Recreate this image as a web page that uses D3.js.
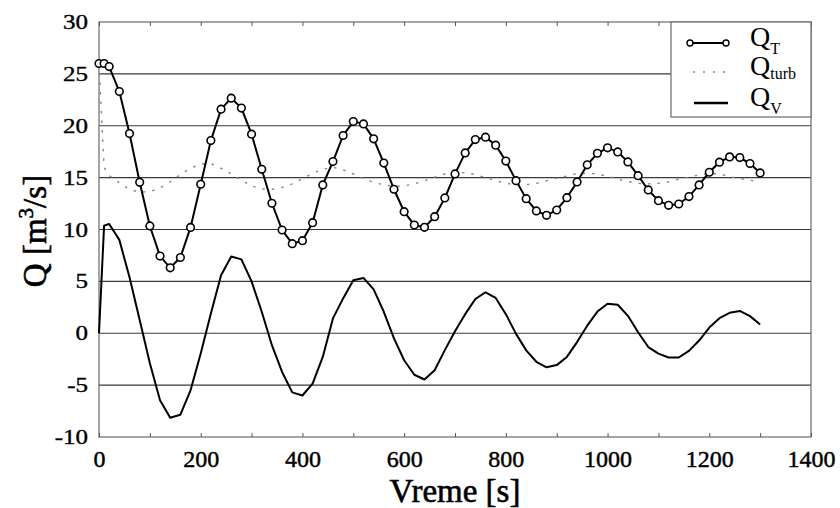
<!DOCTYPE html>
<html>
<head>
<meta charset="utf-8">
<script src="https://cdn.jsdelivr.net/npm/d3@7"></script>
<style>
  html, body { margin: 0; padding: 0; background: #fff; }
  svg { display: block; }
  svg text { font-family: "Liberation Serif", "DejaVu Serif", serif; }
</style>
</head>
<body>
<svg id="chart" width="840" height="508"></svg>
<script>
// Time samples [s]
const time = [0, 10, 20, 40, 60, 80, 100, 120, 140, 160, 180, 200, 220, 240, 260, 280, 300,
  320, 340, 360, 380, 400, 420, 440, 460, 480, 500, 520, 540, 560, 580, 600, 620, 640, 660,
  680, 700, 720, 740, 760, 780, 800, 820, 840, 860, 880, 900, 920, 940, 960, 980, 1000, 1020,
  1040, 1060, 1080, 1100, 1120, 1140, 1160, 1180, 1200, 1220, 1240, 1260, 1280, 1300];

// Total discharge Q_T [m3/s]
const qT = [26.0, 26.0, 25.7, 23.3, 19.25, 14.55, 10.34, 7.44, 6.31, 7.3, 10.2, 14.36, 18.57,
  21.6, 22.66, 21.7, 19.19, 15.8, 12.53, 9.95, 8.63, 8.92, 10.66, 14.3, 16.55, 19.06, 20.4,
  20.18, 18.74, 16.4, 13.88, 11.72, 10.43, 10.21, 11.24, 13.04, 15.36, 17.38, 18.67, 18.9,
  18.13, 16.6, 14.71, 12.97, 11.79, 11.37, 11.88, 13.07, 14.58, 16.23, 17.35, 17.87, 17.48,
  16.51, 15.19, 13.81, 12.78, 12.33, 12.46, 13.17, 14.3, 15.52, 16.49, 17.0, 16.93, 16.35, 15.45];

// Turbine discharge Q_turb [m3/s]
const qTurb = [26.0, 16.0, 15.2, 14.5, 13.85, 13.6, 13.65, 14.0, 14.6, 15.3, 15.9, 16.3, 16.35,
  15.9, 15.35, 14.75, 14.2, 13.9, 13.88, 14.05, 14.4, 14.9, 15.4, 15.8, 16.0, 15.75, 15.35,
  14.9, 14.55, 14.3, 14.15, 14.2, 14.4, 14.7, 15.05, 15.35, 15.5, 15.48, 15.3, 15.0, 14.7,
  14.45, 14.3, 14.32, 14.45, 14.7, 14.95, 15.15, 15.4, 15.42, 15.35, 15.12, 14.87, 14.62,
  14.45, 14.4, 14.45, 14.6, 14.85, 15.05, 15.25, 15.4, 15.35, 15.1, 14.9, 14.75, 14.62];

// Surge-tank discharge Q_V [m3/s]
const qV = [0, 10.37, 10.53, 9.0, 5.4, 1.27, -2.9, -6.45, -8.15, -7.85, -5.5, -1.95, 1.9, 5.6,
  7.4, 7.12, 5.0, 2.07, -1.15, -3.73, -5.7, -6.0, -4.85, -2.28, 1.43, 3.36, 5.1, 5.33, 4.23,
  2.07, -0.5, -2.6, -4.0, -4.46, -3.56, -1.63, 0.2, 1.84, 3.3, 3.95, 3.4, 1.84, -0.06, -1.65,
  -2.75, -3.28, -3.07, -2.28, -0.85, 0.73, 2.09, 2.85, 2.75, 1.68, 0.1, -1.33, -1.96, -2.34,
  -2.34, -1.7, -0.7, 0.55, 1.45, 1.97, 2.15, 1.65, 0.85];

const xTicks = [0, 200, 400, 600, 800, 1000, 1200, 1400];
const xMinorTicks = [0, 100, 200, 300, 400, 500, 600, 700, 800, 900, 1000, 1100, 1200, 1300, 1400];
const yTicks = [-10, -5, 0, 5, 10, 15, 20, 25, 30];
const gridValues = [-5, 0, 5, 10, 15, 20, 25];

const svg = d3.select("#chart");
const plotL = 99, plotT = 22, plotR = 811, plotB = 437;

const x = d3.scaleLinear().domain([0, 1400]).range([plotL, plotR]);
const y = d3.scaleLinear().domain([-10, 30]).range([plotB, plotT]);

// horizontal grid
svg.append("g")
  .selectAll("line").data(gridValues).join("line")
  .attr("x1", plotL).attr("x2", plotR)
  .attr("y1", d => y(d)).attr("y2", d => y(d))
  .attr("stroke", "#3a3a3a").attr("stroke-width", 1.1);

// frame
svg.append("rect")
  .attr("x", plotL).attr("y", plotT)
  .attr("width", plotR - plotL).attr("height", plotB - plotT)
  .attr("fill", "none").attr("stroke", "#6a6a6a").attr("stroke-width", 1.2);

// inward ticks on top and bottom
const axB = d3.axisBottom(x).tickValues(xMinorTicks).tickSize(-4).tickFormat("");
const axT = d3.axisTop(x).tickValues(xMinorTicks).tickSize(-4).tickFormat("");
[svg.append("g").attr("transform", `translate(0,${plotB})`).call(axB),
 svg.append("g").attr("transform", `translate(0,${plotT})`).call(axT)].forEach(g => {
  g.select(".domain").remove();
  g.selectAll("line").attr("stroke", "#555").attr("stroke-width", 1);
});

// x tick labels
const xl = d3.axisBottom(x).tickValues(xTicks).tickSize(0).tickPadding(0).tickFormat(d3.format("d"));
const gxl = svg.append("g").attr("transform", `translate(0,${plotB})`).call(xl)
  .attr("font-family", null);
gxl.select(".domain").remove();
gxl.selectAll("text")
  .attr("y", 30).attr("dy", 0)
  .style("font-size", "24px")
  .attr("fill", "#000").attr("stroke", "#000").attr("stroke-width", 0.45);

// y tick labels (slightly compressed vertically)
svg.append("g").selectAll("text").data(yTicks).join("text")
  .attr("transform", d => `translate(88,${y(d) + 7}) scale(1,0.8)`)
  .attr("text-anchor", "end")
  .style("font-size", "25px")
  .attr("fill", "#000").attr("stroke", "#000").attr("stroke-width", 0.45)
  .text(d => d);

// axis titles
svg.append("text")
  .attr("x", 455).attr("y", 502)
  .attr("text-anchor", "middle")
  .style("font-size", "33px")
  .attr("fill", "#000").attr("stroke", "#000").attr("stroke-width", 0.6)
  .text("Vreme [s]");

const yt = svg.append("text")
  .attr("transform", "translate(46,231) rotate(-90)")
  .attr("text-anchor", "middle")
  .style("font-size", "33px")
  .attr("fill", "#000").attr("stroke", "#000").attr("stroke-width", 0.6);
yt.append("tspan").text("Q [m");
yt.append("tspan").attr("dy", -13).style("font-size", "21px").text("3");
yt.append("tspan").attr("dy", 13).text("/s]");

// series
const pts = arr => time.map((t, i) => [t, arr[i]]);
const line = d3.line().x(d => x(d[0])).y(d => y(d[1]));

svg.append("path").datum(pts(qTurb))
  .attr("d", line).attr("fill", "none")
  .attr("stroke", "#858585").attr("stroke-width", 1.4)
  .attr("stroke-dasharray", "2.5,7");

svg.append("path").datum(pts(qV))
  .attr("d", line).attr("fill", "none")
  .attr("stroke", "#000").attr("stroke-width", 2)
  .attr("stroke-linejoin", "round");

svg.append("path").datum(pts(qT))
  .attr("d", line).attr("fill", "none")
  .attr("stroke", "#000").attr("stroke-width", 2);

svg.append("g").selectAll("circle").data(pts(qT)).join("circle")
  .attr("cx", d => x(d[0])).attr("cy", d => y(d[1])).attr("r", 3.8)
  .attr("fill", "#fff").attr("stroke", "#000").attr("stroke-width", 1.6);

// legend
const lg = svg.append("g");
lg.append("rect")
  .attr("x", 671).attr("y", plotT).attr("width", plotR - 671).attr("height", 95)
  .attr("fill", "#fff").attr("stroke", "#6a6a6a").attr("stroke-width", 1.2);

const legendItems = [
  { name: "T", y: 43, kind: "marker", sub: 8 },
  { name: "turb", y: 72, kind: "dotted", sub: 4 },
  { name: "V", y: 103, kind: "solid", sub: 8 }
];
legendItems.forEach(it => {
  if (it.kind === "marker") {
    lg.append("line").attr("x1", 690).attr("x2", 726).attr("y1", it.y).attr("y2", it.y)
      .attr("stroke", "#000").attr("stroke-width", 1.8);
    [690, 726].forEach(cx => lg.append("circle").attr("cx", cx).attr("cy", it.y).attr("r", 3)
      .attr("fill", "#fff").attr("stroke", "#000").attr("stroke-width", 1.4));
  } else if (it.kind === "dotted") {
    lg.append("line").attr("x1", 693).attr("x2", 730).attr("y1", it.y).attr("y2", it.y)
      .attr("stroke", "#858585").attr("stroke-width", 1.4).attr("stroke-dasharray", "2,8");
  } else {
    lg.append("line").attr("x1", 694).attr("x2", 728).attr("y1", it.y).attr("y2", it.y)
      .attr("stroke", "#000").attr("stroke-width", 2.5);
  }
  const t = lg.append("text").attr("x", 750).attr("y", it.y + 3)
    .style("font-size", "28px").attr("fill", "#000");
  t.append("tspan").text("Q");
  t.append("tspan").attr("dy", it.sub).style("font-size", "16px").text(it.name);
});
</script>
</body>
</html>
